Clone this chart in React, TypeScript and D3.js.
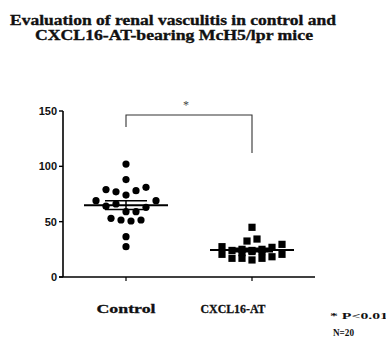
import React from "react";
import * as d3 from "d3";

// ---- data ----
const categories = ["Control", "CXCL16-AT"];
const controlValues = [102, 88, 79, 77, 74, 78, 81, 69, 64, 66, 59, 59, 63, 69, 53, 51.5, 50.6, 51.5, 36.4, 27.4];
const cxclValues = [44.9, 32.5, 34.3, 27.4, 24, 25, 24, 25, 26.8, 29.5, 22, 23, 23, 20.5, 16.9, 16.9, 15.4, 16.9, 18.3, 20.5];
const yTicks = [0, 50, 100, 150];
const titleLines = ["Evaluation of renal vasculitis in control and", "CXCL16-AT-bearing McH5/lpr mice"];
const significanceMark = "*";
const footnotes = ["* P<0.01", "N=20"];

// ---- layout ----
const W = 386;
const H = 338;
const rowThresholds = [
  [33, 45, 56, 72, 84, 96],
  [21.5, 23.5, 31, 40],
];
const colStep = 10;

function swarm(values: number[], thresholds: number[]) {
  const rows = new Map<number, number[]>();
  values.forEach((v, i) => {
    const r = d3.bisectRight(thresholds, v);
    if (!rows.has(r)) rows.set(r, []);
    rows.get(r)!.push(i);
  });
  const offsets = new Array(values.length).fill(0);
  rows.forEach((idx) => {
    const n = idx.length;
    idx.forEach((i, k) => {
      offsets[i] = (k - (n - 1) / 2) * colStep;
    });
  });
  return values.map((v, i) => ({ v, dx: offsets[i] }));
}

export default function App() {
  const x = d3.scalePoint<string>().domain(categories).range([63, 315]).padding(0.5);
  const y = d3.scaleLinear().domain([0, 150]).range([277, 111]);
  const groups = [controlValues, cxclValues];

  const serif = "'Liberation Serif', 'Times New Roman', serif";
  const sans = "'Liberation Sans', Arial, sans-serif";

  const x0 = x(categories[0])!;
  const x1 = x(categories[1])!;

  return (
    <svg width={W} height={H} style={{ position: "absolute", left: 0, top: 0, background: "#fff" }}>
      <rect width={W} height={H} fill="#fff" />
      {/* title */}
      <g fontFamily={serif} fontWeight="bold" fontSize={15} fill="#111" stroke="#111" strokeWidth={0.35}>
        <text x={10} y={25} textLength={326} lengthAdjust="spacingAndGlyphs">
          {titleLines[0]}
        </text>
        <text x={35} y={40} textLength={278} lengthAdjust="spacingAndGlyphs">
          {titleLines[1]}
        </text>
      </g>

      {/* y axis */}
      <line x1={63} x2={63} y1={y(150)} y2={y(0)} stroke="#000" strokeWidth={1.6} />
      {yTicks.map((t) => (
        <g key={t}>
          <line x1={59} x2={63} y1={y(t)} y2={y(t)} stroke="#000" strokeWidth={1.4} />
          <text x={57} y={y(t)} dy="0.35em" textAnchor="end" fontFamily={sans} fontWeight="bold" fontSize={11} fill="#111">
            {t}
          </text>
        </g>
      ))}
      {/* x axis */}
      <line x1={59} x2={315} y1={y(0)} y2={y(0)} stroke="#000" strokeWidth={1.6} />
      {categories.map((c) => (
        <line key={c} x1={x(c)!} x2={x(c)!} y1={y(0)} y2={y(0) + 4} stroke="#000" strokeWidth={1.2} />
      ))}
      {categories.map((c, i) => (
        <text key={c} x={x(c)! + (i === 0 ? 0 : -19)} y={313} textAnchor="middle" fontFamily={serif} fontWeight="bold" fontSize={13} textLength={i === 0 ? 59 : 65} lengthAdjust="spacingAndGlyphs" fill="#111" stroke="#111" strokeWidth={0.3}>
          {c}
        </text>
      ))}

      {/* points */}
      {groups.map((vals, gi) => {
        const cx = x(categories[gi])!;
        const pts = swarm(vals, rowThresholds[gi]);
        return (
          <g key={gi}>
            {pts.map((p, i) =>
              gi === 0 ? (
                <circle key={i} cx={cx + p.dx} cy={y(p.v)} r={3.6} fill="#000" />
              ) : (
                <rect key={i} x={cx + p.dx - 3.6} y={y(p.v) - 3.6} width={7.2} height={7.2} fill="#000" />
              )
            )}
          </g>
        );
      })}

      {/* mean and SEM */}
      {groups.map((vals, gi) => {
        const cx = x(categories[gi])!;
        const m = d3.mean(vals)!;
        const sem = d3.deviation(vals)! / Math.sqrt(vals.length);
        return (
          <g key={"m" + gi} stroke="#000">
            <line x1={cx - 42} x2={cx + 42} y1={y(m)} y2={y(m)} strokeWidth={2} />
            <line x1={cx - 21} x2={cx + 21} y1={y(m + sem)} y2={y(m + sem)} strokeWidth={1.5} />
            <line x1={cx - 21} x2={cx + 21} y1={y(m - sem)} y2={y(m - sem)} strokeWidth={1.5} />
            <line x1={cx} x2={cx} y1={y(m + sem)} y2={y(m - sem)} strokeWidth={1.5} />
          </g>
        );
      })}

      {/* significance bracket */}
      <path d={`M${x0},127 V115 H${x1} V153`} fill="none" stroke="#333" strokeWidth={1.1} />
      <text x={(x0 + x1) / 2 - 3} y={109} textAnchor="middle" fontFamily={serif} fontSize={12} fill="#444">
        {significanceMark}
      </text>

      {/* footnotes */}
      <text x={330} y={319} fontFamily={serif} fontWeight="bold" fontSize={9} textLength={58} lengthAdjust="spacingAndGlyphs" fill="#111">
        {footnotes[0]}
      </text>
      <text x={333} y={336} fontFamily={serif} fontWeight="bold" fontSize={10} textLength={21} lengthAdjust="spacingAndGlyphs" fill="#111">
        {footnotes[1]}
      </text>
    </svg>
  );
}
